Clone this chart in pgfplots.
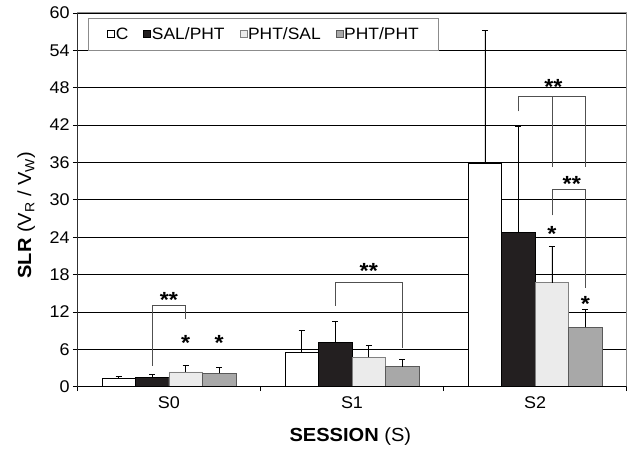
\documentclass[border=0pt]{standalone}
\usepackage{fontspec}
\setmainfont[FakeStretch=1.06]{Liberation Sans}
\usepackage{pgfplots}
\pgfplotsset{compat=1.18}
\definecolor{lgray}{HTML}{EBEBEB}
\definecolor{dgray}{HTML}{A8A8A8}
\definecolor{sblack}{HTML}{231F20}
\definecolor{framegray}{HTML}{8C8C8C}
\definecolor{brgray}{HTML}{505050}
\begin{document}
\begin{tikzpicture}
\begin{axis}[
  width=549.4bp, height=373.8bp, scale only axis,
  xmin=-0.5, xmax=2.5, ymin=0, ymax=60,
  ybar, bar width=0.183,
  ytick={0,6,...,60},
  xtick={-0.5,0.5,1.5,2.5}, xticklabels={},
  extra x ticks={0,1,2}, extra x tick labels={S0,S1,S2},
  extra x tick style={major tick length=0pt, xticklabel style={yshift=-6bp}},
  ymajorgrids, grid style={black, line width=0.6bp},
  axis line style={draw=framegray, line width=0.8bp},
  tick style={black, line width=0.6bp},
  tick align=outside, major tick length=4.5bp,
  xtick pos=bottom, ytick pos=left,
  /pgf/number format/assume math mode=true,
  tick label style={font=\fontsize{17}{19}\selectfont},
  yticklabel style={inner xsep=3bp},
  xlabel={\textbf{SESSION} (S)},
  ylabel={\textbf{SLR} (V\textsubscript{R} / V\textsubscript{W})},
  label style={font=\fontsize{19}{21}\selectfont},
  xlabel style={at={(axis description cs:0.497,-0.134)}, anchor=center},
  ylabel style={at={(axis description cs:-0.093,0.459)}, anchor=center},
  legend columns=4,
  legend style={at={(0.0195,0.986)}, anchor=north west, draw=framegray, line width=0.8bp,
    font=\fontsize{16.5}{18}\selectfont, inner xsep=19bp, inner ysep=8bp,
    nodes={inner sep=1bp},
    /tikz/every even column/.append style={column sep=14bp}},
  legend image code/.code={\draw[#1, line width=0.5bp] (0bp,-3.5bp) rectangle (7bp,3.5bp);},
  error bars/error bar style={black, line width=0.6bp},
  error bars/error mark options={rotate=90, mark size=3bp, black, line width=0.6bp},
]
\addplot[bar shift=-0.2745, fill=white, draw=black, line width=0.6bp,
  error bars/.cd, y dir=plus, y explicit]
  coordinates {(0,1.35) +- (0,0.25) (1,5.52) +- (0,3.47) (2,35.86) +- (0,21.28)};
\addplot[bar shift=-0.0915, fill=sblack, draw=black, line width=0.6bp,
  error bars/.cd, y dir=plus, y explicit]
  coordinates {(0,1.5) +- (0,0.43) (1,7.06) +- (0,3.44) (2,24.72) +- (0,17.01)};
\addplot[bar shift=0.0915, fill=lgray, draw=gray, line width=0.6bp,
  error bars/.cd, y dir=plus, y explicit]
  coordinates {(0,2.36) +- (0,1.07) (1,4.72) +- (0,1.93) (2,16.69) +- (0,5.78)};
\addplot[bar shift=0.2745, fill=dgray, draw=gray!70!black, line width=0.6bp,
  error bars/.cd, y dir=plus, y explicit]
  coordinates {(0,2.15) +- (0,1.01) (1,3.21) +- (0,1.19) (2,9.53) +- (0,2.89)};
\legend{C, SAL/PHT, PHT/SAL, PHT/PHT}
% axis lines left and bottom
\draw[black, line width=0.8bp] (rel axis cs:0,1) -- (rel axis cs:0,0) -- (rel axis cs:1,0);
% significance brackets
\begin{scope}[brgray, line width=0.7bp]
\draw (axis cs:-0.0915,3.4) -- (axis cs:-0.0915,13.07) -- (axis cs:0.0915,13.07) -- (axis cs:0.0915,10.87);
\draw (axis cs:0.9085,13.0) -- (axis cs:0.9085,16.67) -- (axis cs:1.2745,16.67) -- (axis cs:1.2745,6.2);
\draw (axis cs:1.9085,44.2) -- (axis cs:1.9085,46.6) -- (axis cs:2.2745,46.6) -- (axis cs:2.2745,35.3);
\draw (axis cs:2.0915,46.6) -- (axis cs:2.0915,35.3);
\draw (axis cs:2.0915,27.5) -- (axis cs:2.0915,31.6) -- (axis cs:2.2745,31.6) -- (axis cs:2.2745,15.8);
\end{scope}
\begin{scope}[every node/.style={font=\bfseries\fontsize{22}{24}\selectfont, anchor=base, yshift=-12.8bp, inner sep=0pt}]
\node at (axis cs:0,14.7) {**};
\node at (axis cs:0.0915,7.8) {*};
\node at (axis cs:0.2745,7.8) {*};
\node at (axis cs:1.0915,19.4) {**};
\node at (axis cs:2.1,48.96) {**};
\node at (axis cs:2.2,33.45) {**};
\node at (axis cs:2.0915,25.4) {*};
\node at (axis cs:2.2745,14.2) {*};
\end{scope}
\coordinate (ll) at (rel axis cs:0,0);
\coordinate (ur) at (rel axis cs:1,1);
\end{axis}
\pgfresetboundingbox
\path ([shift={(-77.3bp,-62.3bp)}]ll) rectangle ([shift={(3.3bp,12.9bp)}]ur);
\end{tikzpicture}
\end{document}
